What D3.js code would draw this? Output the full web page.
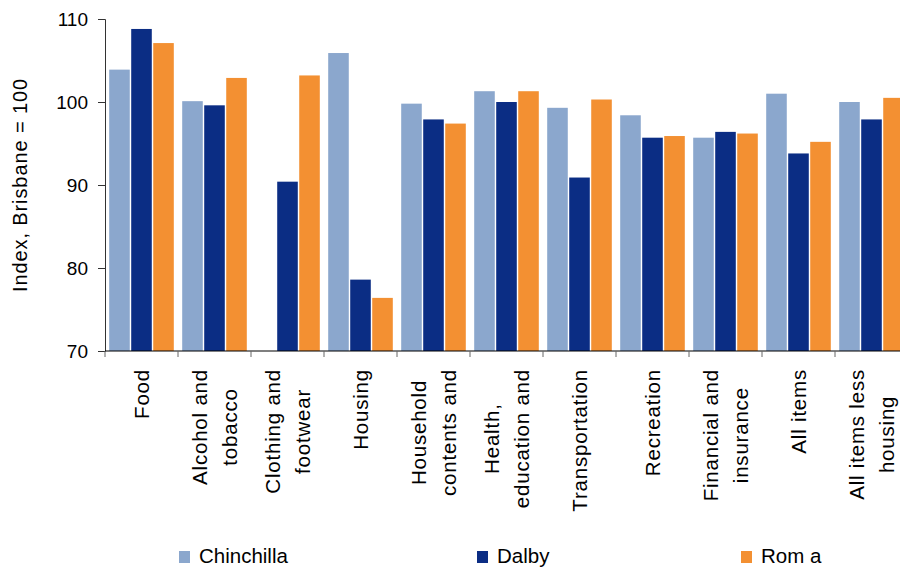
<!DOCTYPE html>
<html>
<head>
<meta charset="utf-8">
<script src="https://cdn.jsdelivr.net/npm/d3@7/dist/d3.min.js"></script>
<style>
  html, body { margin: 0; padding: 0; background: #fff; }
  svg { display: block; font-family: "Liberation Sans", Arial, sans-serif; }
</style>
</head>
<body>
<svg id="chart" width="900" height="569"></svg>
<script>
// ---- Data ----
const categories = [
  ["Food"],
  ["Alcohol and", "tobacco"],
  ["Clothing and", "footwear"],
  ["Housing"],
  ["Household", "contents and"],
  ["Health,", "education and"],
  ["Transportation"],
  ["Recreation"],
  ["Financial and", "insurance"],
  ["All items"],
  ["All items less", "housing"]
];
const seriesNames = ["Chinchilla", "Dalby", "Rom a"];
const chinchilla = [103.9, 100.1, null, 105.9, 99.8, 101.3, 99.3, 98.4, 95.7, 101.0, 100.0];
const dalby      = [108.8, 99.6, 90.4, 78.6, 97.9, 100.0, 90.9, 95.7, 96.4, 93.8, 97.9];
const roma       = [107.1, 102.9, 103.2, 76.4, 97.4, 101.3, 100.3, 95.9, 96.2, 95.2, 100.5];
const yTicks = [70, 80, 90, 100, 110];
const colors = ["#8BA7CD", "#0B2D84", "#F39032"];

const seriesValues = [chinchilla, dalby, roma];
const catKeys = categories.map((c, i) => "c" + i);

// ---- Layout ----
const svg = d3.select("#chart");
const left = 105, plotTop = 19, plotBottom = 351;
const step = 73;
const right = left + step * categories.length;

const x0 = d3.scaleBand().domain(catKeys).range([left, right])
  .paddingInner(0.115).paddingOuter(0.0575);
const x1 = d3.scaleBand().domain(d3.range(seriesNames.length))
  .range([0, x0.bandwidth()]).paddingInner(0.065);
const y = d3.scaleLinear().domain([70, 110]).range([plotBottom, plotTop]);

// ---- Bars ----
const groups = svg.append("g").selectAll("g")
  .data(catKeys).join("g")
  .attr("transform", d => `translate(${x0(d)},0)`);

groups.selectAll("rect")
  .data((d, i) => seriesValues.map((s, k) => ({k, v: s[i]})).filter(e => e.v != null))
  .join("rect")
  .attr("x", d => x1(d.k))
  .attr("width", x1.bandwidth())
  .attr("y", d => y(d.v))
  .attr("height", d => y(70) - y(d.v))
  .attr("fill", d => colors[d.k]);

// ---- Y axis ----
const yAxis = d3.axisLeft(y).tickValues(yTicks).tickSize(7).tickPadding(10);
const gy = svg.append("g").attr("transform", `translate(${left},0)`).call(yAxis);
gy.select(".domain").attr("stroke", "#333");
gy.selectAll(".tick line").attr("stroke", "#333");
gy.selectAll(".tick text")
  .attr("font-size", 19).attr("fill", "#000")
  .attr("font-family", "'Liberation Sans', Arial, sans-serif");

// ---- X axis (baseline + boundary ticks) ----
svg.append("line")
  .attr("x1", left).attr("x2", 900)
  .attr("y1", y(70)).attr("y2", y(70))
  .attr("stroke", "#000").attr("stroke-width", 1.2);
const boundaryScale = d3.scaleLinear().domain([0, categories.length]).range([left, right]);
svg.append("g").selectAll("line")
  .data(d3.range(categories.length))
  .join("line")
  .attr("x1", d => boundaryScale(d)).attr("x2", d => boundaryScale(d))
  .attr("y1", y(70)).attr("y2", y(70) + 6)
  .attr("stroke", "#666").attr("stroke-width", 1);

// ---- X labels ----
const labelTop = 369;
const lineGap = 30;
const labG = svg.append("g");
categories.forEach((lines, i) => {
  const cx = x0(catKeys[i]) + x0.bandwidth() / 2;
  const texts = lines.map((t, j) => labG.append("text")
    .attr("font-size", 20.5)
    .attr("letter-spacing", "0.8px")
    .attr("fill", "#000")
    .attr("text-anchor", "middle")
    .text(t));
  const maxLen = d3.max(texts, t => t.node().getComputedTextLength());
  const cy = labelTop + maxLen / 2;
  texts.forEach((t, j) => {
    const bx = cx + (j - (lines.length - 1) / 2) * lineGap + 7;
    t.attr("transform", `translate(${bx},${cy}) rotate(-90)`);
  });
});

// ---- Y title ----
svg.append("text")
  .attr("transform", `translate(27,185) rotate(-90)`)
  .attr("text-anchor", "middle")
  .attr("font-size", 20)
  .attr("letter-spacing", "0.9px")
  .attr("fill", "#000")
  .text("Index, Brisbane = 100");

// ---- Legend ----
const legendX = [179, 477, 741];
const leg = svg.append("g").selectAll("g")
  .data(seriesNames).join("g")
  .attr("transform", (d, i) => `translate(${legendX[i]},551)`);
leg.append("rect").attr("width", 11).attr("height", 12)
  .attr("fill", (d, i) => colors[i]);
leg.append("text").attr("x", 20).attr("y", 12)
  .attr("font-size", 20.5).attr("fill", "#000")
  .text(d => d);
</script>
</body>
</html>
